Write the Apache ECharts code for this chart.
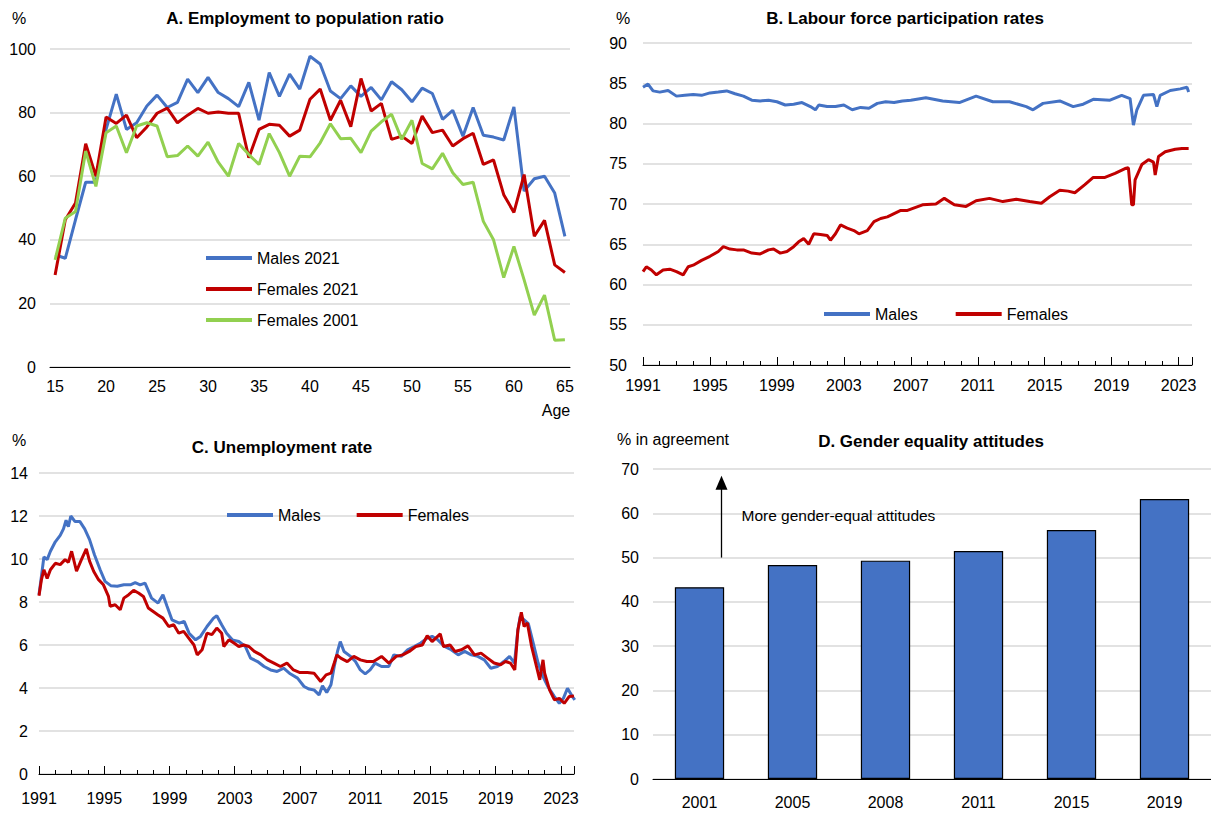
<!DOCTYPE html>
<html>
<head>
<meta charset="utf-8">
<script src="https://cdn.jsdelivr.net/npm/echarts@6/dist/echarts.min.js"></script>
<style>
html,body{margin:0;padding:0;background:#fff;}
#chart{width:1211px;height:813px;}
</style>
</head>
<body>
<div id="chart"></div>
<script>
// ---------- Panel A: Employment to population ratio by age ----------
const ages = ['15','16','17','18','19','20','21','22','23','24','25','26','27','28','29','30','31','32','33','34','35','36','37','38','39','40','41','42','43','44','45','46','47','48','49','50','51','52','53','54','55','56','57','58','59','60','61','62','63','64','65'];
const empMales2021 = [35.3,34.2,46.3,58.1,58.1,74.7,85.8,74.7,76.8,82.1,85.5,81.6,83.2,90.5,86.3,91.1,86.3,84.4,81.9,89.5,77.6,92.6,85.1,92.1,87.4,97.7,95.3,86.8,84.4,88.4,85.1,87.9,84.0,89.7,87.2,83.4,87.7,86.0,77.9,80.7,72.6,81.6,72.9,72.3,71.4,81.8,55.3,59.2,60.0,54.7,41.1];
const empFemales2021 = [28.9,46.3,51.6,70.2,60.0,78.6,76.6,79.2,72.1,75.5,79.8,81.4,76.8,79.2,81.3,79.8,80.2,79.8,79.8,65.8,74.7,76.3,76.0,72.6,74.5,84.2,87.4,77.6,83.9,75.6,90.7,80.5,82.9,71.6,72.6,70.3,78.9,73.7,74.5,69.5,71.8,73.5,63.7,65.1,54.2,48.6,60.5,41.1,46.1,32.1,29.7];
const empFemales2001 = [33.7,46.8,48.9,67.9,56.8,73.7,75.8,67.4,75.8,76.8,75.8,66.1,66.5,69.5,66.3,70.7,64.4,60.0,70.3,66.8,63.7,73.4,67.4,60.0,66.3,66.1,70.5,76.5,71.8,71.9,67.4,74.2,77.1,79.5,71.6,77.6,64.0,62.3,67.2,61.1,57.4,58.1,45.8,40.0,28.1,37.9,27.4,16.3,22.6,8.4,8.6];

// ---------- Panel B: Labour force participation rates [decimal year, %] ----------
const lfpMales = [[1991.0,84.5],[1991.3,84.9],[1991.6,84.05],[1992.0,83.9],[1992.5,84.1],[1993.0,83.4],[1993.5,83.5],[1994.0,83.6],[1994.5,83.5],[1995.0,83.8],[1995.5,83.9],[1996.0,84.05],[1996.5,83.7],[1997.0,83.4],[1997.5,82.9],[1998.0,82.8],[1998.5,82.9],[1999.0,82.7],[1999.5,82.3],[2000.0,82.4],[2000.5,82.6],[2001.0,82.1],[2001.3,81.7],[2001.5,82.3],[2002.0,82.1],[2002.5,82.1],[2003.0,82.3],[2003.5,81.7],[2004.0,82.0],[2004.5,81.9],[2005.0,82.5],[2005.5,82.7],[2006.0,82.6],[2006.5,82.8],[2007.0,82.9],[2007.9,83.2],[2008.9,82.8],[2009.9,82.6],[2010.9,83.4],[2011.9,82.7],[2012.9,82.7],[2013.9,82.1],[2014.3,81.7],[2014.9,82.5],[2015.9,82.8],[2016.7,82.1],[2017.3,82.4],[2017.9,83.0],[2018.9,82.9],[2019.6,83.5],[2020.1,83.1],[2020.3,79.8],[2020.5,81.65],[2020.9,83.5],[2021.5,83.6],[2021.7,82.1],[2021.9,83.5],[2022.5,84.1],[2023.1,84.3],[2023.5,84.5],[2023.6,83.9]];
const lfpFemales = [[1991.0,61.6],[1991.2,62.2],[1991.5,61.8],[1991.8,61.2],[1992.2,61.8],[1992.6,61.9],[1993.0,61.6],[1993.4,61.2],[1993.7,62.2],[1994.0,62.4],[1994.5,63.0],[1995.0,63.5],[1995.5,64.1],[1995.8,64.7],[1996.2,64.4],[1996.6,64.3],[1997.0,64.3],[1997.5,63.9],[1998.0,63.8],[1998.5,64.3],[1998.8,64.4],[1999.2,63.9],[1999.6,64.1],[2000.0,64.7],[2000.3,65.3],[2000.6,65.7],[2000.9,65.0],[2001.2,66.3],[2001.6,66.2],[2002.0,66.1],[2002.2,65.5],[2002.5,66.3],[2002.8,67.4],[2003.2,67.0],[2003.6,66.7],[2003.9,66.3],[2004.4,66.7],[2004.8,67.8],[2005.2,68.2],[2005.6,68.4],[2006.0,68.8],[2006.4,69.2],[2006.8,69.2],[2007.7,69.9],[2008.5,70.0],[2009.0,70.7],[2009.6,69.9],[2010.3,69.7],[2010.9,70.4],[2011.7,70.7],[2012.5,70.3],[2013.3,70.6],[2014.1,70.3],[2014.8,70.1],[2015.3,70.9],[2015.9,71.7],[2016.4,71.6],[2016.8,71.4],[2017.4,72.4],[2017.9,73.3],[2018.6,73.3],[2019.2,73.8],[2019.8,74.4],[2020.0,74.5],[2020.2,69.9],[2020.3,69.9],[2020.4,73.0],[2020.8,74.9],[2021.2,75.5],[2021.5,75.2],[2021.6,73.6],[2021.8,75.9],[2022.2,76.5],[2022.8,76.8],[2023.2,76.9],[2023.6,76.9]];

// ---------- Panel C: Unemployment rate [decimal year, %] ----------
const unempMales = [[1991.0,8.34],[1991.15,9.2],[1991.3,10.1],[1991.5,9.97],[1991.7,10.36],[1992.0,10.8],[1992.3,11.1],[1992.5,11.4],[1992.66,11.8],[1992.8,11.5],[1992.95,12.0],[1993.2,11.75],[1993.5,11.75],[1993.8,11.4],[1994.1,10.9],[1994.4,10.2],[1994.75,9.5],[1995.05,8.96],[1995.4,8.76],[1995.8,8.73],[1996.2,8.8],[1996.6,8.8],[1996.9,8.9],[1997.2,8.8],[1997.5,8.88],[1997.9,8.18],[1998.3,7.95],[1998.6,8.34],[1998.85,7.8],[1999.15,7.17],[1999.6,7.02],[1999.9,7.1],[2000.2,6.55],[2000.6,6.24],[2000.9,6.4],[2001.3,6.86],[2001.7,7.25],[2001.9,7.36],[2002.2,6.94],[2002.5,6.55],[2002.85,6.24],[2003.25,6.16],[2003.65,5.93],[2003.97,5.39],[2004.4,5.23],[2004.8,5.0],[2005.2,4.84],[2005.6,4.77],[2006.0,4.92],[2006.4,4.66],[2006.85,4.46],[2007.25,4.07],[2007.56,3.95],[2007.86,3.91],[2008.17,3.68],[2008.38,4.1],[2008.64,3.79],[2008.9,4.15],[2009.1,5.0],[2009.3,5.7],[2009.47,6.16],[2009.7,5.7],[2010.1,5.47],[2010.4,5.23],[2010.7,4.84],[2011.0,4.66],[2011.3,4.84],[2011.6,5.16],[2012.0,5.0],[2012.45,5.0],[2012.75,5.54],[2013.2,5.47],[2013.6,5.78],[2014.0,5.93],[2014.4,6.09],[2014.8,6.32],[2015.1,6.4],[2015.45,6.24],[2015.86,5.93],[2016.27,5.78],[2016.7,5.54],[2017.1,5.7],[2017.5,5.54],[2017.9,5.47],[2018.3,5.31],[2018.7,4.92],[2019.1,5.0],[2019.5,5.23],[2019.85,5.47],[2020.15,5.16],[2020.36,6.7],[2020.5,7.33],[2020.74,7.17],[2021.0,6.99],[2021.3,6.09],[2021.6,5.16],[2021.9,4.53],[2022.2,4.07],[2022.6,3.6],[2022.9,3.29],[2023.15,3.52],[2023.4,3.99],[2023.7,3.6],[2023.85,3.45]];
const unempFemales = [[1991.0,8.29],[1991.15,9.04],[1991.3,9.5],[1991.5,9.1],[1991.7,9.5],[1992.0,9.8],[1992.3,9.74],[1992.6,9.97],[1992.8,9.84],[1993.0,10.36],[1993.3,9.43],[1993.6,9.97],[1993.9,10.47],[1994.1,9.9],[1994.35,9.43],[1994.65,9.04],[1994.95,8.8],[1995.26,8.26],[1995.36,7.8],[1995.67,7.87],[1995.98,7.64],[1996.2,8.18],[1996.5,8.34],[1996.8,8.54],[1997.1,8.42],[1997.4,8.26],[1997.7,7.72],[1998.0,7.56],[1998.3,7.4],[1998.6,7.25],[1998.95,6.86],[1999.26,6.94],[1999.57,6.55],[1999.87,6.63],[2000.18,6.32],[2000.5,6.0],[2000.7,5.54],[2001.0,5.78],[2001.3,6.55],[2001.6,6.48],[2001.9,6.79],[2002.2,6.55],[2002.33,5.93],[2002.64,6.24],[2002.95,6.09],[2003.25,5.93],[2003.56,6.0],[2003.87,5.93],[2004.2,5.7],[2004.6,5.54],[2005.0,5.31],[2005.4,5.16],[2005.8,5.0],[2006.2,5.16],[2006.6,4.84],[2007.0,4.72],[2007.45,4.72],[2007.86,4.69],[2008.27,4.3],[2008.6,4.61],[2008.9,4.69],[2009.1,5.16],[2009.26,5.54],[2009.5,5.39],[2009.9,5.23],[2010.3,5.47],[2010.7,5.31],[2011.1,5.23],[2011.5,5.23],[2012.0,5.47],[2012.45,5.16],[2012.9,5.47],[2013.3,5.54],[2013.7,5.7],[2014.1,5.93],[2014.5,6.0],[2014.8,6.43],[2015.1,6.16],[2015.6,6.52],[2015.8,5.93],[2016.2,6.0],[2016.5,5.7],[2016.9,5.78],[2017.3,5.96],[2017.7,5.54],[2018.1,5.62],[2018.5,5.39],[2018.9,5.16],[2019.3,5.08],[2019.6,5.23],[2019.9,5.16],[2020.17,4.84],[2020.36,6.7],[2020.57,7.52],[2020.74,6.86],[2020.94,7.02],[2021.2,5.93],[2021.5,5.0],[2021.7,4.38],[2021.9,5.31],[2022.0,4.69],[2022.3,3.91],[2022.6,3.45],[2022.9,3.52],[2023.2,3.29],[2023.5,3.6],[2023.8,3.63]];

// ---------- Panel D: Gender equality attitudes ----------
const attYears = ['2001','2005','2008','2011','2015','2019'];
const attValues = [43.3,48.3,49.3,51.5,56.2,63.2];

// ---------- styling ----------
const FONT = '"Liberation Sans Narrow","Arial Narrow","Liberation Sans",Arial,sans-serif';
const BLUE = '#4472C4', RED = '#C00000', GREEN = '#92D050';
const GRID_COLOR = '#D9D9D9';
const BASE_YEAR = 1991, MAX_OFF = 32.8;
const shift = pts => pts.map(p => [p[0] - BASE_YEAR, p[1]]);

const chart = echarts.init(document.getElementById('chart'), null, {renderer: 'svg'});

const valueY = (gridIndex, min, max, interval, margin) => ({
  type: 'value', gridIndex, min, max, interval,
  axisLine: {show: false}, axisTick: {show: false},
  axisLabel: {fontFamily: FONT, fontSize: 16, color: '#000', margin},
  splitLine: {lineStyle: {color: GRID_COLOR, width: 1.5}}
});
const yearAxisMinor = (gridIndex, margin) => ({
  type: 'value', gridIndex, min: 0, max: MAX_OFF, interval: 1, position: 'bottom',
  axisLine: {lineStyle: {color: '#000', width: 1}},
  axisTick: {inside: true, length: 4, lineStyle: {color: '#000'}},
  axisLabel: {fontFamily: FONT, fontSize: 16, color: '#000', margin, showMaxLabel: false,
    formatter: v => (Number.isInteger(v) && v % 4 === 0) ? String(BASE_YEAR + v) : ''},
  splitLine: {show: false}
});
const yearAxisMajor = (gridIndex) => ({
  type: 'value', gridIndex, min: 0, max: MAX_OFF, interval: 4, position: 'bottom',
  axisLine: {show: false},
  axisTick: {inside: true, length: 8, lineStyle: {color: '#000'}},
  axisLabel: {show: false},
  splitLine: {show: false}
});
const lineSeries = (name, data, color, xi, yi) => ({
  name, type: 'line', data, xAxisIndex: xi, yAxisIndex: yi,
  showSymbol: false, symbol: 'none', smooth: false,
  lineStyle: {color, width: 3}, itemStyle: {color},
  emphasis: {disabled: true}, z: 3
});
const legendStyle = {fontFamily: FONT, fontSize: 16, color: '#000'};

const option = {
  animation: false,
  backgroundColor: '#fff',
  textStyle: {fontFamily: FONT},
  grid: [
    {left: 50, top: 49, width: 520, height: 318},
    {left: 643, top: 43, width: 549, height: 322},
    {left: 39, top: 473, width: 535, height: 301},
    {left: 653, top: 469, width: 558, height: 310}
  ],
  xAxis: [
    {type: 'category', gridIndex: 0, data: ages, boundaryGap: true,
     axisLine: {lineStyle: {color: '#000'}},
     axisTick: {inside: true, length: 5, interval: 0, lineStyle: {color: '#000'}},
     axisLabel: {interval: 4, fontFamily: FONT, fontSize: 16, color: '#000', margin: 11}},
    yearAxisMinor(1, 12), yearAxisMajor(1),
    yearAxisMinor(2, 16), yearAxisMajor(2),
    {type: 'category', gridIndex: 3, data: attYears, boundaryGap: true,
     axisLine: {lineStyle: {color: '#000'}},
     axisTick: {inside: true, length: 7, lineStyle: {color: '#000'}},
     axisLabel: {fontFamily: FONT, fontSize: 16, color: '#000', margin: 15}}
  ],
  yAxis: [
    valueY(0, 0, 100, 20, 14),
    valueY(1, 50, 90, 5, 16),
    valueY(2, 0, 14, 2, 11),
    valueY(3, 0, 70, 10, 14)
  ],
  legend: [
    {orient: 'vertical', left: 201, top: 245, itemGap: 15, itemWidth: 46, itemHeight: 4, icon: 'rect',
     textStyle: legendStyle, selectedMode: false,
     data: ['Males 2021', 'Females 2021', 'Females 2001']},
    {orient: 'horizontal', left: 819, top: 301, itemGap: 38, itemWidth: 46, itemHeight: 4, icon: 'rect',
     textStyle: legendStyle, selectedMode: false, data: ['Males', 'Females']},
    {orient: 'horizontal', left: 222, top: 502, itemGap: 36, itemWidth: 46, itemHeight: 4, icon: 'rect',
     textStyle: legendStyle, selectedMode: false, data: ['Males', 'Females']}
  ],
  series: [
    lineSeries('Males 2021', empMales2021, BLUE, 0, 0),
    lineSeries('Females 2021', empFemales2021, RED, 0, 0),
    lineSeries('Females 2001', empFemales2001, GREEN, 0, 0),
    lineSeries('Males', shift(lfpMales), BLUE, 1, 1),
    lineSeries('Females', shift(lfpFemales), RED, 1, 1),
    lineSeries('Males', shift(unempMales), BLUE, 3, 2),
    lineSeries('Females', shift(unempFemales), RED, 3, 2),
    {name: 'Attitudes', type: 'bar', data: attValues, xAxisIndex: 5, yAxisIndex: 3,
     barWidth: '53%', itemStyle: {color: BLUE, borderColor: '#000', borderWidth: 1.2},
     emphasis: {disabled: true}}
  ]
};
chart.setOption(option);

// Annotations positioned from the axes
const titleFont = 'bold 17px ' + FONT;
const txt = (text, x, y, align, font) => ({
  type: 'text', x, y, silent: true,
  style: {text, font: font || ('16px ' + FONT), fill: '#000', textAlign: align || 'left', textVerticalAlign: 'middle'}
});
const pA = chart.convertToPixel({xAxisIndex: 5, yAxisIndex: 3}, ['2001', 50]);
const pB = chart.convertToPixel({xAxisIndex: 5, yAxisIndex: 3}, ['2001', 68]);
const pT = chart.convertToPixel({xAxisIndex: 5, yAxisIndex: 3}, ['2001', 59.5]);
const ax = pA[0] + 22;
chart.setOption({
  graphic: [
    txt('A. Employment to population ratio', 305, 18, 'center', titleFont),
    txt('%', 12, 18, 'left'),
    txt('B. Labour force participation rates', 905, 18, 'center', titleFont),
    txt('%', 616, 18, 'left'),
    txt('Age', 556, 410, 'center'),
    txt('C. Unemployment rate', 282, 447, 'center', titleFont),
    txt('%', 12, 440, 'left'),
    txt('D. Gender equality attitudes', 931, 441, 'center', titleFont),
    txt('% in agreement', 617, 439, 'left'),
    {type: 'line', silent: true, shape: {x1: ax, y1: pA[1], x2: ax, y2: pB[1] + 10},
     style: {stroke: '#000', lineWidth: 1.3}},
    {type: 'polygon', silent: true,
     shape: {points: [[ax, pB[1] - 2], [ax - 6, pB[1] + 12], [ax + 6, pB[1] + 12]]},
     style: {fill: '#000'}},
    txt('More gender-equal attitudes', ax + 20, pT[1], 'left', '15.5px ' + FONT)
  ]
});
</script>
</body>
</html>
